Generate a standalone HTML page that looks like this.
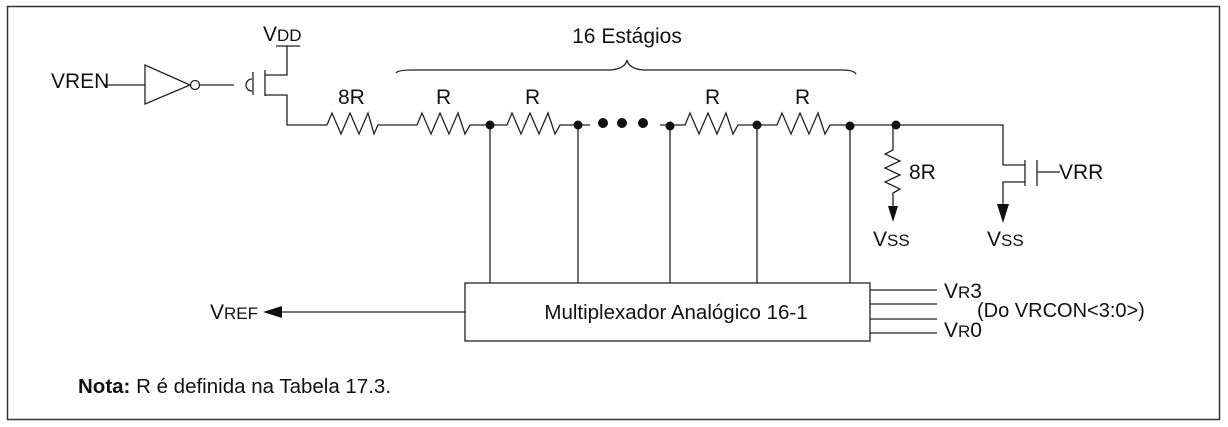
<!DOCTYPE html>
<html><head><meta charset="utf-8"><style>
html,body{margin:0;padding:0;background:#fff;}
svg{display:block;font-family:"Liberation Sans",Arial,sans-serif;}
</style></head><body>
<svg width="1228" height="427" viewBox="0 0 1228 427" xmlns="http://www.w3.org/2000/svg">
<rect x="7.5" y="6.5" width="1212" height="413" fill="none" stroke="#333" stroke-width="1.5"/>
<g stroke="#222" stroke-width="1.3" fill="none">
<line x1="105" y1="85" x2="145" y2="85"/>
<polygon points="145,65 145,104 190,85"/>
<circle cx="195" cy="85" r="4.5"/>
<line x1="200" y1="85" x2="234" y2="85"/>
<path d="M252,79 A6,6 0 1 0 252,91"/>
<line x1="253" y1="72" x2="253" y2="95"/>
<line x1="265" y1="70" x2="265" y2="96"/>
<polyline points="265,75 287,75 287,46"/>
<line x1="276" y1="46" x2="300" y2="46"/>
<polyline points="265,95 287,95 287,125 327,125"/>
<polyline points="327,125 332,113 341,134 350,113 359,134 368,113 374,134 378,125 417,125"/>
<polyline points="417,125 422,113 431,134 440,113 449,134 458,113 465,134 470,125 507,125"/>
<polyline points="507,125 512,113 521,134 530,113 539,134 548,113 555,134 560,125 590,125"/>
<polyline points="660,125 685,125 690,113 699,134 708,113 717,134 726,113 733,134 738,125 777,125"/>
<polyline points="777,125 782,113 791,134 800,113 809,134 818,113 825,134 830,125 1003,125 1003,165 1025,165"/>
<line x1="490" y1="125" x2="490" y2="283"/>
<line x1="578" y1="125" x2="578" y2="283"/>
<line x1="670" y1="125" x2="670" y2="283"/>
<line x1="757" y1="125" x2="757" y2="283"/>
<line x1="850" y1="125" x2="850" y2="283"/>
<path d="M396,73 Q398,70 412,70 L610,70 Q625,69 627,60 Q629,69 644,70 L842,70 Q854,70 856,74"/>
<polyline points="893,125 893,150 885,154 900,161 885,168 900,175 885,182 900,189 893,193 893,208"/>
<line x1="1025" y1="160" x2="1025" y2="186"/>
<line x1="1037" y1="160" x2="1037" y2="186"/>
<line x1="1037" y1="172" x2="1060" y2="172"/>
<polyline points="1025,182 1003,182 1003,205"/>
<rect x="465" y="283" width="405" height="58"/>
<line x1="465" y1="312" x2="280" y2="312"/>
<line x1="870" y1="290" x2="937" y2="290"/>
<line x1="870" y1="304" x2="937" y2="304"/>
<line x1="870" y1="319" x2="937" y2="319"/>
<line x1="870" y1="333" x2="937" y2="333"/>
</g>
<g fill="#111">
<circle cx="490" cy="125" r="4.5"/><circle cx="578" cy="125" r="4.5"/>
<circle cx="670" cy="126" r="4.5"/><circle cx="757" cy="125" r="4.5"/>
<circle cx="850" cy="126" r="4.5"/><circle cx="896" cy="125" r="4.5"/>
<circle cx="603" cy="123" r="5"/><circle cx="622" cy="123" r="5"/><circle cx="643" cy="123" r="5"/>
<polygon points="888,206 898,206 893,222"/>
<polygon points="997,204 1009,204 1003,223"/>
<polygon points="263,312 282,306 282,318"/>
</g>
<g fill="#111" font-size="21">
<text x="51" y="88">VREN</text>
<text x="263" y="41">V<tspan font-size="17">DD</tspan></text>
<text x="338" y="104">8R</text>
<text x="436" y="104">R</text>
<text x="525" y="104">R</text>
<text x="705" y="104">R</text>
<text x="795" y="104">R</text>
<text x="627" y="43" text-anchor="middle">16 Estágios</text>
<text x="909" y="179">8R</text>
<text x="1059" y="179">VRR</text>
<text x="873" y="246">V<tspan font-size="17">SS</tspan></text>
<text x="987" y="246">V<tspan font-size="17">SS</tspan></text>
<text x="210" y="319">V<tspan font-size="17">REF</tspan></text>
<text x="676" y="319" text-anchor="middle" font-size="20.5">Multiplexador Analógico 16-1</text>
<text x="944" y="298">V<tspan font-size="17">R</tspan>3</text>
<text x="944" y="337">V<tspan font-size="17">R</tspan>0</text>
<text x="977" y="317" font-size="20">(Do VRCON&lt;3:0&gt;)</text>
<text x="78" y="393" font-size="20.5"><tspan font-weight="bold">Nota:</tspan> R é definida na Tabela 17.3.</text>
</g>
</svg>
</body></html>
